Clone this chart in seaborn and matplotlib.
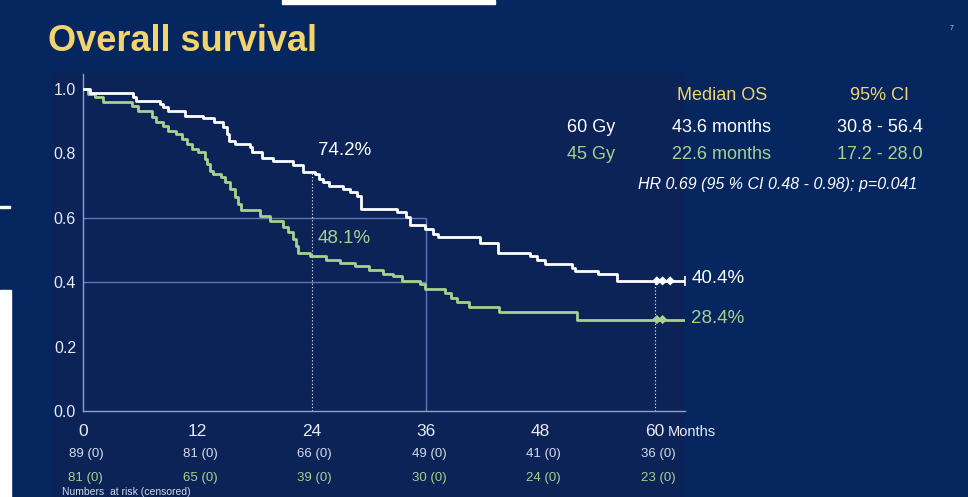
import numpy as np
import pandas as pd
import matplotlib
matplotlib.use("Agg")
import matplotlib.pyplot as plt
import seaborn as sns
from matplotlib.patches import Rectangle

# Kaplan-Meier steps
months_60gy = [0, 0.7, 5.2, 5.6, 8.1, 8.4, 8.9, 10.7, 12.6, 13.7, 14.7, 15.1, 15.3, 15.9,
               17.5, 17.7, 18.8, 19.9, 22.0, 23.1, 24.3, 24.8, 25.2, 25.8, 27.3, 28.0,
               28.7, 29.2, 32.9, 33.9, 34.3, 35.9, 36.7, 37.2, 41.6, 43.5, 46.9, 47.6,
               48.5, 51.3, 51.6, 54.0, 56.0, 63.1]
surv_60gy = [1.0, 0.987, 0.974, 0.964, 0.953, 0.944, 0.931, 0.917, 0.910, 0.897, 0.882,
             0.860, 0.839, 0.829, 0.819, 0.804, 0.787, 0.775, 0.764, 0.742, 0.735,
             0.720, 0.710, 0.700, 0.690, 0.680, 0.667, 0.626, 0.617, 0.601, 0.579, 0.564,
             0.550, 0.539, 0.523, 0.492, 0.481, 0.470, 0.455, 0.445, 0.434, 0.424, 0.404,
             0.404]
months_45gy = [0, 0.5, 1.3, 2.1, 5.1, 5.8, 7.2, 7.7, 8.4, 8.9, 9.8, 10.4, 10.9, 11.4, 12.1,
               12.8, 13.0, 13.3, 13.6, 14.5, 14.9, 15.4, 15.9, 16.3, 16.6, 18.6, 19.6,
               21.0, 21.5, 22.0, 22.3, 22.6, 23.8, 25.5, 27.0, 28.5, 30.0, 31.5, 32.5,
               33.5, 35.3, 35.9, 38.0, 38.6, 39.2, 40.5, 43.6, 51.8, 63.1]
surv_45gy = [1.0, 0.984, 0.975, 0.960, 0.948, 0.932, 0.912, 0.897, 0.886, 0.870, 0.860,
             0.844, 0.829, 0.813, 0.804, 0.782, 0.766, 0.745, 0.735, 0.726, 0.710, 0.688,
             0.664, 0.642, 0.625, 0.605, 0.590, 0.570, 0.555, 0.533, 0.512, 0.492, 0.481,
             0.470, 0.461, 0.450, 0.438, 0.427, 0.418, 0.405, 0.394, 0.380, 0.365, 0.350,
             0.337, 0.323, 0.306, 0.284, 0.284]
censor_60gy = [60.2, 60.8, 61.6]
censor_45gy = [60.2, 60.8]

xticks = [0, 12, 24, 36, 48, 60]
at_risk_60gy = ["89 (0)", "81 (0)", "66 (0)", "49 (0)", "41 (0)", "36 (0)"]
at_risk_45gy = ["81 (0)", "65 (0)", "39 (0)", "30 (0)", "24 (0)", "23 (0)"]

WHITE = "#ffffff"
GREEN = "#a9d08e"
YELLOW = "#f3d36c"
SLIDE = "#05265f"
PANEL = "#0c2357"
REF = "#5d77b9"

sns.set_theme(style="white")
plt.rcParams["font.family"] = ["Liberation Sans", "DejaVu Sans"]

df = pd.concat([
    pd.DataFrame({"month": months_60gy, "surv": surv_60gy, "arm": "60 Gy"}),
    pd.DataFrame({"month": months_45gy, "surv": surv_45gy, "arm": "45 Gy"}),
])

W, H = 968, 497
fig = plt.figure(figsize=(W / 100, H / 100), dpi=100, facecolor=SLIDE)

def fx(px):
    return px / W

def fy(py):
    return 1 - py / H

# chart panel and screenshot leftovers
fig.patches.append(Rectangle((fx(53), 0), fx(684) - fx(53), fy(72), transform=fig.transFigure,
                             color=PANEL, zorder=0))
fig.patches.append(Rectangle((fx(282), fy(4)), fx(495) - fx(282), 1 - fy(4),
                             transform=fig.transFigure, color="white", zorder=0))
fig.patches.append(Rectangle((0, 0), fx(11), fy(290), transform=fig.transFigure,
                             color="white", zorder=0))
fig.patches.append(Rectangle((0, fy(208)), fx(10), 2 / H, transform=fig.transFigure,
                             color="white", zorder=0))

ax = fig.add_axes([fx(83), fy(411), fx(685) - fx(83), (411 - 74.5) / H])
ax.set_zorder(2)
ax.set_facecolor("none")

# reference lines
ax.hlines([0.6, 0.4], 0, 36, color=REF, lw=1, zorder=1)
ax.vlines(36, 0, 0.6, color=REF, lw=1, zorder=1)
ax.vlines(24, 0, 0.742, color=WHITE, lw=0.8, ls=(0, (1, 2)), zorder=1)
ax.vlines(60, 0, 0.404, color=WHITE, lw=0.8, ls=(0, (1, 2)), zorder=1)

sns.lineplot(data=df, x="month", y="surv", hue="arm", palette={"60 Gy": WHITE, "45 Gy": GREEN},
             hue_order=["45 Gy", "60 Gy"], drawstyle="steps-post", estimator=None,
             lw=2, legend=False, ax=ax, zorder=3)
sns.scatterplot(x=censor_60gy, y=[0.404] * len(censor_60gy), marker="D", s=22,
                color=WHITE, edgecolor="none", ax=ax, zorder=4)
sns.scatterplot(x=censor_45gy, y=[0.284] * len(censor_45gy), marker="D", s=22,
                color=GREEN, edgecolor="none", ax=ax, zorder=4)
ax.plot([63.1], [0.404], marker="|", ms=7, mew=1.2, color=WHITE, zorder=4, clip_on=False)

ax.set_xlim(0, 63.15)
ax.set_ylim(0, 1.045)
ax.set_xticks(xticks)
ax.set_yticks([0, 0.2, 0.4, 0.6, 0.8, 1.0])
ax.set_yticklabels(["0.0", "0.2", "0.4", "0.6", "0.8", "1.0"])
ax.set_xlabel("")
ax.set_ylabel("")
for side in ["top", "right"]:
    ax.spines[side].set_visible(False)
for side in ["left", "bottom"]:
    ax.spines[side].set_color("#8fa0cc")
    ax.spines[side].set_linewidth(1)
ax.tick_params(axis="x", direction="in", length=5, width=1, color="#8fa0cc",
               labelsize=12.5, labelcolor="#e8ebf3", pad=9)
ax.tick_params(axis="y", direction="out", length=3, width=1, color="#8fa0cc",
               labelsize=11.5, labelcolor="#e8ebf3", pad=2)
ax.text(61.3, -0.066, "Months", color="#e8ebf3", fontsize=10.5, ha="left", va="center",
        clip_on=False)

# percent labels
ax.text(24.6, 0.81, "74.2%", color=WHITE, fontsize=13.5, ha="left", va="center")
ax.text(24.6, 0.537, "48.1%", color=GREEN, fontsize=13.5, ha="left", va="center")
ax.text(63.8, 0.412, "40.4%", color=WHITE, fontsize=13.5, ha="left", va="center", clip_on=False)
ax.text(63.8, 0.288, "28.4%", color=GREEN, fontsize=13.5, ha="left", va="center", clip_on=False)

# numbers at risk
for x, a, b in zip(xticks, at_risk_60gy, at_risk_45gy):
    ax.text(x + 0.3, -0.134, a, color="#d6dbe8", fontsize=9.5, ha="center", va="center",
            clip_on=False)
    ax.text(x + 0.3, -0.208, b, color=GREEN, fontsize=9.5, ha="center", va="center",
            clip_on=False)
ax.text(-2.2, -0.252, "Numbers  at risk (censored)", color="#d6dbe8", fontsize=7.5,
        ha="left", va="center", clip_on=False)

# title and summary table
fig.text(fx(48), fy(51), "Overall survival", color=YELLOW, fontsize=26, fontweight="bold",
         ha="left", va="baseline")
fig.text(fx(952), fy(28), "7", color="#c8cfe0", fontsize=5, ha="center", va="center")
fig.text(fx(722), fy(96), "Median OS", color=YELLOW, fontsize=13, ha="center", va="center")
fig.text(fx(880), fy(96), "95% CI", color=YELLOW, fontsize=13, ha="center", va="center")
fig.text(fx(567), fy(128), "60 Gy", color=WHITE, fontsize=13, ha="left", va="center")
fig.text(fx(722), fy(128), "43.6 months", color=WHITE, fontsize=13, ha="center", va="center")
fig.text(fx(880), fy(128), "30.8 - 56.4", color=WHITE, fontsize=13, ha="center", va="center")
fig.text(fx(567), fy(155), "45 Gy", color=GREEN, fontsize=13, ha="left", va="center")
fig.text(fx(722), fy(155), "22.6 months", color=GREEN, fontsize=13, ha="center", va="center")
fig.text(fx(880), fy(155), "17.2 - 28.0", color=GREEN, fontsize=13, ha="center", va="center")
fig.text(fx(638), fy(184), "HR 0.69 (95 % CI 0.48 - 0.98); p=0.041", color=WHITE,
         fontsize=11.5, style="italic", ha="left", va="center")

fig.savefig("out.png", dpi=100, facecolor=SLIDE)
